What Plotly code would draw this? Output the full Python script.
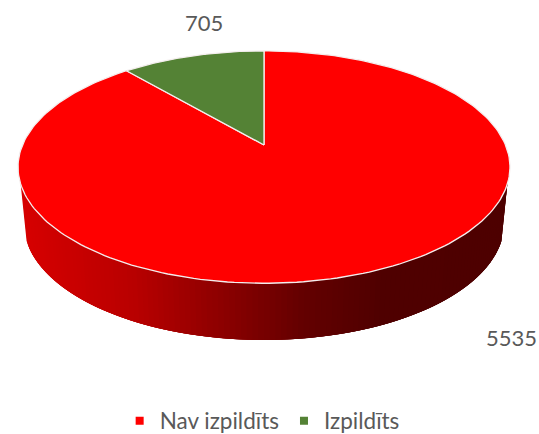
import numpy as np
import plotly.graph_objects as go

# Data
categories = ["Nav izpildīts", "Izpildīts"]
values = [5535, 705]
colors = ["#ff0000", "#548235"]

# Figure extends below the 434 px window so the legend box is not clipped
W, H = 539, 452
FONT = "Lato"
TXT = "#595959"
LEGEND_Y = 421

# Projection of the pie disc: apex, perspective, radii
APEX_X, APEX_Y = 264.0, 145.0
K, AY, BX = 0.19, 112.0, 241.5
# Ellipse outlines of the top and bottom rims
TOP_CY, TOP_RX, TOP_RY = 167.0, 246.0, 116.0
BOT_CY, BOT_RX, BOT_RY = 224.0, 240.0, 116.0


def project(theta):
    """theta measured clockwise from 12 o'clock on the disc."""
    sx, cy = np.sin(theta), np.cos(theta)
    w = 1 + K * cy
    return APEX_X + BX * sx / w, APEX_Y - AY * cy / w


def wall_colour(x):
    stops_x = [20, 130, 250, 300, 380, 510]
    stops_r = [215, 185, 125, 100, 80, 78]
    return f"rgb({int(np.interp(x, stops_x, stops_r))},0,0)"


fig = go.Figure()

# Side wall as gradient strips along the front rim, painted left to right,
# each strip overlapping the next ones so that no seams show
phi0 = np.arcsin(17 / TOP_RY)
phis = np.linspace(np.pi - phi0, phi0, 121)
for i in range(len(phis) - 1):
    seg = phis[i:min(i + 5, len(phis))]
    tx = APEX_X + TOP_RX * np.cos(seg)
    ty = TOP_CY + TOP_RY * np.sin(seg)
    bx = APEX_X + BOT_RX * np.cos(seg[::-1])
    by = BOT_CY + BOT_RY * np.sin(seg[::-1])
    xs = np.r_[tx, bx, tx[0]]
    ys = np.r_[ty, by, ty[0]]
    c = wall_colour(float(tx[0]))
    fig.add_trace(go.Scatter(x=xs, y=ys, mode="lines", fill="toself", fillcolor=c,
                             line=dict(width=0), hoverinfo="skip", showlegend=False))

# Top face slices, angles from the values
total = sum(values)
start = 0.0
for name, v, col in zip(categories, values, colors):
    end = start + v / total * 2 * np.pi
    th = np.linspace(start, end, 240)
    ax, ay = project(th)
    xs = np.r_[APEX_X, ax, APEX_X]
    ys = np.r_[APEX_Y, ay, APEX_Y]
    fig.add_trace(go.Scatter(x=xs, y=ys, mode="lines", fill="toself", fillcolor=col,
                             line=dict(color="#f4eeee", width=1.3), name=name,
                             hoverinfo="name", showlegend=False))
    start = end

# Legend
for name, col in zip(categories, colors):
    fig.add_trace(go.Scatter(x=[None], y=[None], mode="markers", name=name,
                             marker=dict(symbol="square", size=8, color=col)))

# Data labels
label_pos = [(511, 337), (204, 22)]
annotations = [dict(x=x, y=y, text=str(v), showarrow=False, xref="x", yref="y",
                    font=dict(family=FONT, size=22, color=TXT))
               for (x, y), v in zip(label_pos, values)]

fig.update_layout(
    width=W, height=H, margin=dict(l=0, r=0, t=0, b=0, autoexpand=False),
    paper_bgcolor="white", plot_bgcolor="white",
    xaxis=dict(range=[0, W], visible=False, fixedrange=True),
    yaxis=dict(range=[H, 0], visible=False, fixedrange=True),
    annotations=annotations,
    showlegend=True,
    legend=dict(orientation="h", x=0.222, xanchor="left", y=(H - LEGEND_Y) / H, yanchor="middle",
                font=dict(family=FONT, size=22.5, color=TXT), bgcolor="rgba(0,0,0,0)"),
)
fig.write_html("out.html", post_script="document.body.style.margin='0';",
               config={"displayModeBar": False})
